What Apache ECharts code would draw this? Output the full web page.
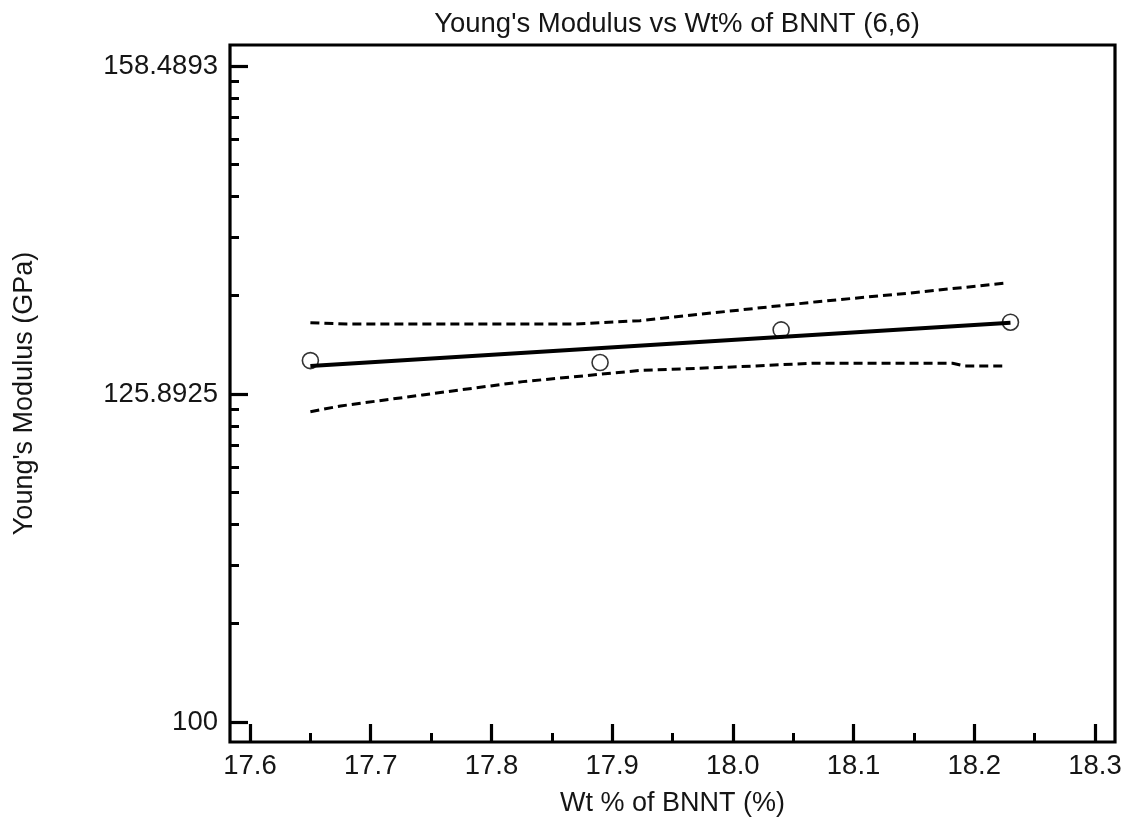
<!DOCTYPE html>
<html>
<head>
<meta charset="utf-8">
<script src="https://cdn.jsdelivr.net/npm/echarts@6/dist/echarts.min.js"></script>
<style>
html,body{margin:0;padding:0;background:#fff;}
#chart{width:1133px;height:829px;}
</style>
</head>
<body>
<div id="chart"></div>
<script>
// ---- data (Young's modulus in GPa vs Wt % of BNNT) ----
const wtPct      = [17.65, 17.89, 18.04, 18.23];
const modulus    = [128.88, 128.70, 131.69, 132.40];

// regression line
const fitX = [17.65, 18.23];
const fitY = [128.40, 132.34];

// upper confidence band
const upperX = [17.65, 17.68, 17.868, 17.923, 18.006, 18.070, 18.144, 18.225];
const upperY = [132.36, 132.23, 132.23, 132.54, 133.54, 134.32, 135.11, 136.07];

// lower confidence band
const lowerX = [17.65, 17.675, 17.743, 17.826, 17.923, 18.006, 18.066, 18.182, 18.192, 18.225];
const lowerY = [124.34, 124.84, 125.81, 126.99, 127.99, 128.33, 128.64, 128.64, 128.40, 128.40];

// axis ticks
const xMajorTicks = [17.6, 17.7, 17.8, 17.9, 18.0, 18.1, 18.2, 18.3];
const xMinorTicks = [17.65, 17.75, 17.85, 17.95, 18.05, 18.15, 18.25];
const yTickValues = [100, 125.8925, 158.4893];
const yTickLabels = ['100', '125.8925', '158.4893'];

const titleText = "Young's Modulus vs Wt% of BNNT (6,6)";
const xName = 'Wt % of BNNT (%)';
const yName = "Young's Modulus (GPa)";

// ---- build ----
const L = Math.log10;
const pairs = (xs, ys) => xs.map((x, i) => [x, L(ys[i])]);
const yMajor = yTickValues.map(L);
const yMinor = [];
for (let j = 0; j < yMajor.length - 1; j++) {
  for (let k = 2; k <= 9; k++) yMinor.push(yMajor[j] + (yMajor[j + 1] - yMajor[j]) * L(k));
}
const labelMap = {};
yMajor.forEach((v, i) => { labelMap[v.toFixed(6)] = yTickLabels[i]; });

const FONT = 'Liberation Sans, Arial, sans-serif';
const TXT = '#151515';

const xMin = 17.5834, xMax = 18.3166;
const yMin = 1.99390, yMax = 2.20640;

const chart = echarts.init(document.getElementById('chart'), null, {renderer: 'canvas'});
chart.setOption({
  animation: false,
  backgroundColor: '#fff',
  title: {
    text: titleText,
    left: 672, top: 5, textAlign: 'center',
    textStyle: {fontFamily: FONT, fontSize: 27.5, fontWeight: 'normal', color: TXT}
  },
  grid: {
    left: 230, right: 18, top: 45, bottom: 87,
    show: true, borderColor: '#000', borderWidth: 3.2, backgroundColor: 'transparent'
  },
  xAxis: [
    {
      type: 'value', min: xMin, max: xMax, position: 'bottom',
      axisLine: {show: false},
      splitLine: {show: false},
      axisTick: {show: true, inside: true, length: 18, customValues: xMajorTicks,
        lineStyle: {color: '#000', width: 3.2}},
      axisLabel: {customValues: xMajorTicks, formatter: v => v.toFixed(1), margin: 10,
        fontFamily: FONT, fontSize: 27.5, color: TXT},
      name: xName, nameLocation: 'middle', nameGap: 48,
      nameTextStyle: {fontFamily: FONT, fontSize: 27, color: TXT}
    },
    {
      type: 'value', min: xMin, max: xMax, position: 'bottom',
      axisLine: {show: false}, splitLine: {show: false},
      axisTick: {show: true, inside: true, length: 9, customValues: xMinorTicks,
        lineStyle: {color: '#000', width: 3}},
      axisLabel: {show: false}
    }
  ],
  yAxis: [
    {
      type: 'value', min: yMin, max: yMax, position: 'left',
      axisLine: {show: false}, splitLine: {show: false},
      axisTick: {show: true, inside: true, length: 18, customValues: yMajor,
        lineStyle: {color: '#000', width: 3.2}},
      axisLabel: {customValues: yMajor, margin: 12,
        formatter: v => labelMap[v.toFixed(6)] || '',
        fontFamily: FONT, fontSize: 27.5, color: TXT},
      name: yName, nameLocation: 'middle', nameGap: 192, nameRotate: 90,
      nameTextStyle: {fontFamily: FONT, fontSize: 27, color: TXT}
    },
    {
      type: 'value', min: yMin, max: yMax, position: 'left',
      axisLine: {show: false}, splitLine: {show: false},
      axisTick: {show: true, inside: true, length: 9, customValues: yMinor,
        lineStyle: {color: '#000', width: 3}},
      axisLabel: {show: false}
    }
  ],
  series: [
    {
      type: 'line', data: pairs(upperX, upperY), showSymbol: false, smooth: false,
      lineStyle: {color: '#000', width: 3, type: [9, 5]}, z: 2
    },
    {
      type: 'line', data: pairs(lowerX, lowerY), showSymbol: false, smooth: false,
      lineStyle: {color: '#000', width: 3, type: [9, 5]}, z: 2
    },
    {
      type: 'line', data: pairs(fitX, fitY), showSymbol: false,
      lineStyle: {color: '#000', width: 4}, z: 3
    },
    {
      type: 'scatter', data: pairs(wtPct, modulus), symbol: 'circle', symbolSize: 16,
      itemStyle: {color: 'rgba(255,255,255,0)', borderColor: '#000', borderWidth: 1.6}, z: 4
    }
  ]
});
</script>
</body>
</html>
